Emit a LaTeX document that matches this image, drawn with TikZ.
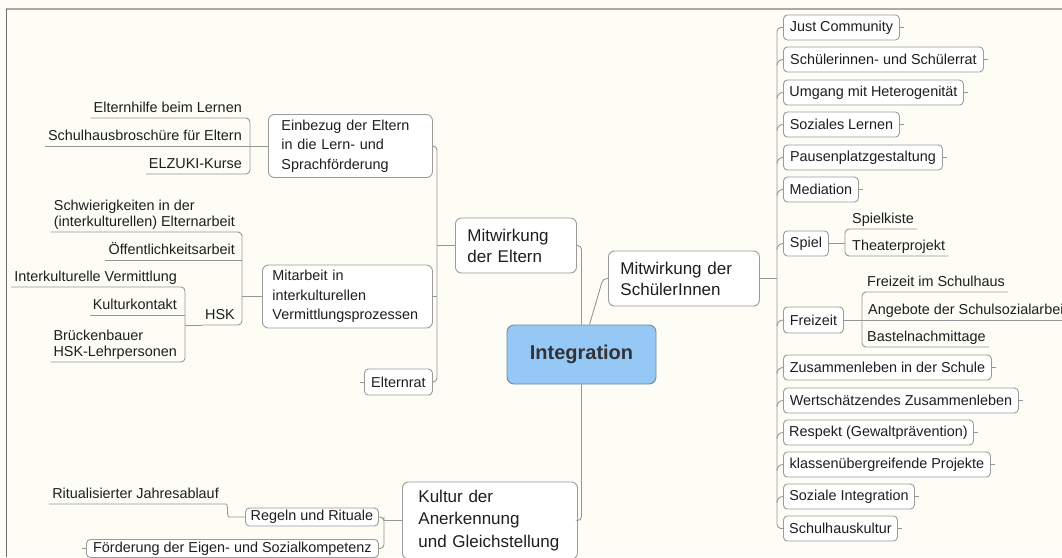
\documentclass[tikz,border=0pt]{standalone}
\usepackage{fontspec}
\setmainfont{Liberation Sans}
\usetikzlibrary{calc}
\definecolor{bg}{RGB}{253,253,246}
\definecolor{linegray}{RGB}{150,150,150}
\definecolor{boxgray}{RGB}{155,155,155}
\definecolor{txt}{RGB}{30,30,30}
\definecolor{intfill}{RGB}{150,200,245}
\definecolor{intdraw}{RGB}{115,135,155}
\definecolor{inttxt}{RGB}{50,50,55}
\definecolor{topline}{RGB}{170,170,165}
\definecolor{leftline}{RGB}{110,110,110}
\newcommand\smallf{\fontsize{14.4}{16.5}\selectfont}
\newcommand\midf{\fontsize{14.4}{19.5}\selectfont}
\newcommand\bigf{\fontsize{17}{21}\selectfont}
\newcommand\kulf{\fontsize{17}{22.5}\selectfont}
\tikzset{
  conn/.style={draw=linegray, line width=0.9pt, rounded corners=4pt},
  mmbox/.style={draw=boxgray, fill=white, line width=0.9pt, rounded corners=6pt, text=txt, inner ysep=0pt, anchor=west},
  rbox/.style={mmbox, rounded corners=4pt, inner xsep=4pt, minimum height=25, font=\smallf},
  multibox/.style={mmbox, align=left},
  intbox/.style={draw=intdraw, fill=intfill, line width=0.9pt, rounded corners=7pt, text=inttxt, font=\fontsize{20}{24}\selectfont\bfseries},
  leafl/.style={inner xsep=3pt, inner ysep=0pt, text=txt, font=\smallf, execute at end node=\strut, anchor=south east},
  leafr/.style={inner xsep=3pt, inner ysep=0pt, text=txt, font=\smallf, execute at end node=\strut, anchor=south west},
}
\begin{document}
\begin{tikzpicture}[x=1pt,y=-1pt]
\useasboundingbox (0,0) rectangle (1062,557);
\fill[bg] (0,0) rectangle (1062,557);
\clip (0,0) rectangle (1062,557);
\draw[topline, line width=2pt] (6,9) -- (1062,9);
\draw[leftline, line width=1.5pt] (6.5,9) -- (6.5,557);

% ---------- right side boxes ----------
\node[rbox, minimum width=116] (jc) at (783,27.5) {Just Community};
\node[rbox, minimum width=200] (sus) at (783,59.5) {Schülerinnen- und Schülerrat};
\node[rbox, minimum width=180] (umh) at (783,92.5) {Umgang mit Heterogenität};
\node[rbox, minimum width=116] (sl) at (783,124.5) {Soziales Lernen};
\node[rbox, minimum width=159] (pg) at (783,157.5) {Pausenplatzgestaltung};
\node[rbox, minimum width=75] (med) at (783,189.5) {Mediation};
\node[rbox, minimum width=45] (spiel) at (783,243.5) {Spiel};
\node[rbox, minimum width=60, minimum height=26] (fz) at (783,320) {Freizeit};
\node[rbox, minimum width=208] (zis) at (783,367.5) {Zusammenleben in der Schule};
\node[rbox, minimum width=235] (wz) at (783,400.5) {Wertschätzendes Zusammenleben};
\node[rbox, minimum width=190] (resp) at (783,432.5) {Respekt (Gewaltprävention)};
\node[rbox, minimum width=207] (kp) at (783,464.5) {klassenübergreifende Projekte};
\node[rbox, minimum width=131] (si) at (783,496.5) {Soziale Integration};
\node[rbox, minimum width=114] (shk) at (783,528.5) {Schulhauskultur};

% leaves right
\node[leafr] (spk) at (849,229) {Spielkiste};
\node[leafr] (thp) at (849,256) {Theaterprojekt};
\node[leafr] (fs) at (864,292) {Freizeit im Schulhaus};
\node[leafr] (an) at (865,320) {Angebote der Schulsozialarbeit};
\node[leafr] (bn) at (864,347) {Bastelnachmittage};

% ---------- central ----------
\node[intbox, minimum width=149, minimum height=59] (int) at (581.5,354.5) {Integration};
\node[multibox, minimum height=55, text width=97, inner xsep=12, font=\bigf] (mde) at (455,245.5) {Mitwirkung\\der Eltern};
\node[multibox, minimum height=55, text width=127, inner xsep=12, font=\bigf] (mds) at (608,278.5) {Mitwirkung~der\\SchülerInnen};
\node[multibox, minimum height=77, text width=143, inner xsep=16, font=\kulf] (kul) at (402,520.5) {Kultur der\\Anerkennung\\und~Gleichstellung};

% ---------- left boxes ----------
\node[multibox, minimum height=63, text width=138, inner xsep=13, font=\midf] (ein) at (268,146) {Einbezug der Eltern\\in die Lern- und\\Sprachförderung};
\node[multibox, minimum height=63, text width=150, inner xsep=10, font=\midf] (mit) at (262,296.5) {Mitarbeit in\\interkulturellen\\Vermittlungsprozessen};
\node[rbox, minimum width=68, minimum height=26] (er) at (364,382) {Elternrat};
\node[rbox, minimum width=133, minimum height=18] (reg) at (245,517) {Regeln und Rituale};
\node[rbox, minimum width=292, minimum height=18] (foe) at (86,548.5) {Förderung der Eigen- und Sozialkompetenz};

% leaves left
\node[leafl] (eh) at (245,118) {Elternhilfe beim Lernen};
\node[leafl] (sb) at (245,146) {Schulhausbroschüre für Eltern};
\node[leafl] (ez) at (245,174) {ELZUKI-Kurse};
\node[leafl, align=left] (sw) at (238,232) {Schwierigkeiten in der\\(interkulturellen) Elternarbeit};
\node[leafl] (oa) at (238,260) {Öffentlichkeitsarbeit};
\node[leafl] (hsk) at (238,325) {HSK};
\node[leafl] (iv) at (180,287) {Interkulturelle Vermittlung};
\node[leafl] (kk) at (180,315) {Kulturkontakt};
\node[leafl, align=left] (bb) at (180,362) {Brückenbauer\\HSK-Lehrpersonen};
\node[leafl] (rj) at (222,504) {Ritualisierter Jahresablauf};

% ---------- bracket points ----------
\coordinate (b1) at (250,146);
\coordinate (b2) at (242,296.5);
\coordinate (b3) at (185,324.5);
\coordinate (b4) at (437,245.5);
\coordinate (b5) at (384,520.5);
\coordinate (b6) at (777,278.5);
\coordinate (b7) at (845,243.5);
\coordinate (b8) at (862,320);

% ---------- connectors ----------
% Einbezug group
\draw[conn] (eh.south west) -| (b1) |- (ez.south west);
\draw[conn] (sb.south west) -- (ein.west);
% Mitarbeit group
\draw[conn] (sw.south west) -| (b2) |- (hsk.south west);
\draw[conn] (oa.south west) -- (oa.south west -| b2);
\draw[conn] (mit.west) -- (b2);
% HSK group
\draw[conn] (iv.south west) -| (b3) |- (bb.south west);
\draw[conn] (kk.south west) -- (kk.south west -| b3);
\draw[conn] (hsk.south west) -- (hsk.south west -| b3);
% Mitwirkung der Eltern group
\draw[conn] (ein.east) -| (b4) |- (er.east);
\draw[conn] (mit.east) -- (mit.east -| b4);
\draw[conn] (mde.west) -- (b4);
\draw[conn] (er.west) -- ++(-4,0);
% Integration
\draw[conn] (mde.east) -| (int.north);
\draw[conn] ([xshift=8pt]int.north) -- ([xshift=-5pt]mds.west) -- (mds.west);
\draw[conn] (int.south) |- (kul.east);
% Kultur group
\draw[conn] (reg.east) -| (b5) |- (foe.east);
\draw[conn] (kul.west) -- (b5);
\draw[conn] (rj.south west) -- (rj.south east) to[out=0,in=180] ([xshift=-12pt]reg.west) -- (reg.west);
\draw[conn] (foe.west) -- ++(-4,0);
% right spine
\draw[conn] (mds.east) -- (b6);
\draw[conn] (jc.west) -| (b6) |- (shk.west);
\foreach \n in {sus,umh,sl,pg,med,spiel,fz,zis,wz,resp,kp,si}
  \draw[conn] (\n.west) to[out=180,in=90] ($(\n.west -| b6)+(0,6)$);
\foreach \n in {jc,sus,umh,sl,pg,med,zis,wz,resp,kp,si,shk}
  \draw[conn] (\n.east) -- ++(4,0);
% Spiel
\draw[conn] (spiel.east) -- (b7);
\draw[conn] (spk.south east) -| (b7) |- (thp.south east);
% Freizeit
\draw[conn] (fs.south east) -| (b8) |- (bn.south east);
\draw[conn] (fz.east) -- (an.south east);
\end{tikzpicture}
\end{document}
